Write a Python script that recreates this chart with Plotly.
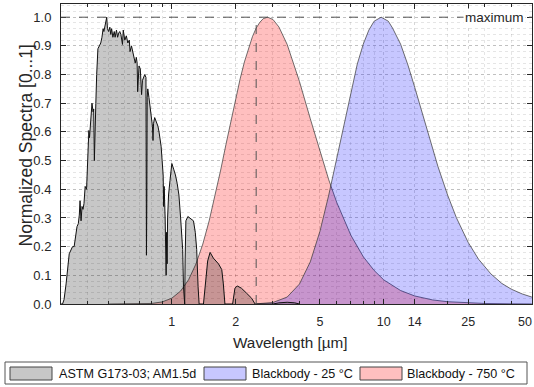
import plotly.graph_objects as go

# ---- data ----
solar_wl = [0.300, 0.305, 0.31, 0.317, 0.328, 0.335, 0.340, 0.346, 0.353, 0.357, 0.362, 0.366, 0.369,
            0.373, 0.377, 0.381, 0.385, 0.390, 0.396, 0.401, 0.406, 0.409, 0.413, 0.417, 0.420, 0.425,
            0.428, 0.431, 0.434, 0.438, 0.442, 0.448, 0.455, 0.462, 0.468, 0.474, 0.478, 0.485, 0.493,
            0.497, 0.503, 0.510, 0.515, 0.520, 0.527, 0.535, 0.540, 0.548, 0.555, 0.562, 0.568, 0.575,
            0.585, 0.590, 0.600, 0.610, 0.620, 0.630, 0.635, 0.645, 0.655, 0.665, 0.672, 0.680, 0.686,
            0.690, 0.695, 0.700, 0.710, 0.720, 0.727, 0.735, 0.745, 0.755, 0.759, 0.762, 0.765, 0.770,
            0.780, 0.790, 0.800, 0.810, 0.815, 0.820, 0.830, 0.840, 0.850, 0.860, 0.870, 0.880, 0.890,
            0.900, 0.910, 0.915, 0.920, 0.930, 0.935, 0.940, 0.945, 0.950, 0.955, 0.965, 0.980, 0.990,
            1.000, 1.020, 1.040, 1.060, 1.080, 1.100, 1.115, 1.125, 1.135, 1.143, 1.150, 1.155, 1.165,
            1.190, 1.220, 1.240, 1.265, 1.290, 1.310, 1.330, 1.345, 1.410, 1.435, 1.476, 1.515, 1.570,
            1.660, 1.720, 1.750, 1.780, 1.935, 1.985, 2.035, 2.130, 2.250, 2.380, 2.470, 3.000, 3.200,
            3.500, 3.800, 4.000]
solar_val = [0.0, 0.0, 0.015, 0.07, 0.175, 0.19, 0.20, 0.20, 0.245, 0.27, 0.28, 0.31, 0.36,
             0.29, 0.34, 0.33, 0.35, 0.41, 0.40, 0.51, 0.605, 0.58, 0.64, 0.66, 0.70, 0.67,
             0.68, 0.50, 0.64, 0.70, 0.80, 0.89, 0.90, 0.91, 0.93, 0.96, 0.95, 0.97, 1.0,
             0.96, 0.95, 0.965, 0.94, 0.96, 0.93, 0.95, 0.93, 0.955, 0.93, 0.945, 0.95, 0.94,
             0.905, 0.955, 0.92, 0.935, 0.91, 0.92, 0.88, 0.90, 0.88, 0.85, 0.84, 0.86, 0.84,
             0.74, 0.80, 0.83, 0.82, 0.73, 0.78, 0.79, 0.80, 0.79, 0.17, 0.35, 0.72, 0.75,
             0.72, 0.68, 0.66, 0.62, 0.57, 0.63, 0.65, 0.64, 0.63, 0.62, 0.60, 0.58, 0.55,
             0.50, 0.45, 0.34, 0.41, 0.30, 0.12, 0.10, 0.25, 0.14, 0.30, 0.38, 0.43, 0.47,
             0.49, 0.47, 0.45, 0.42, 0.38, 0.30, 0.22, 0.19, 0.06, 0.02, 0.0, 0.15, 0.29,
             0.305, 0.30, 0.295, 0.29, 0.25, 0.19, 0.06, 0.0, 0.0, 0.07, 0.15, 0.18, 0.16,
             0.14, 0.12, 0.07, 0.0, 0.0, 0.055, 0.063, 0.055, 0.038, 0.02, 0.0, 0.0, 0.004,
             0.006, 0.004, 0.0]

bb750_wl = [0.5, 0.6, 0.7, 0.8, 0.9, 1.0, 1.1, 1.2, 1.3, 1.4, 1.5, 1.6, 1.7, 1.8, 1.9, 2.0, 2.1, 2.2,
            2.3, 2.4, 2.5, 2.6, 2.7, 2.83, 3.0, 3.2, 3.5, 3.8, 4.0, 4.5, 5.0, 5.5, 6.0, 7.0, 8.0, 9.0,
            10, 12, 14, 17, 20, 25, 30, 40, 50]
bb750_val = [0.0, 0.00002, 0.0003, 0.0018, 0.0072, 0.0203, 0.0452, 0.0848, 0.140, 0.209, 0.290,
             0.377, 0.467, 0.556, 0.640, 0.717, 0.785, 0.844, 0.893, 0.932, 0.962, 0.982, 0.995,
             1.0, 0.992, 0.966, 0.905, 0.829, 0.776, 0.646, 0.531, 0.433, 0.354, 0.239, 0.165,
             0.117, 0.084, 0.047, 0.028, 0.0142, 0.008, 0.0035, 0.0018, 0.0006, 0.00026]

bb25_wl = [2.5, 3, 3.5, 4, 4.5, 5, 5.5, 6, 6.5, 7, 7.5, 8, 8.5, 9, 9.72, 10.5, 11, 12, 13, 14, 15,
           16, 18, 20, 22, 25, 28, 32, 36, 40, 45, 50]
bb25_val = [0.0005, 0.0053, 0.0242, 0.0695, 0.147, 0.254, 0.380, 0.510, 0.635, 0.746, 0.837, 0.906,
            0.955, 0.986, 1.0, 0.986, 0.962, 0.906, 0.833, 0.755, 0.678, 0.607, 0.480, 0.380, 0.301,
            0.215, 0.156, 0.105, 0.072, 0.0515, 0.035, 0.024]

x_tickvals = [1, 2, 5, 10, 14, 25, 50]
x_ticktext = ["1", "2", "5", "10", "14", "25", ""]   # last label drawn separately (kept inside page)
x_last_label = "50"
x_minorvals = [0.3, 0.4, 0.5, 0.6, 0.7, 0.8, 0.9, 3, 4, 6, 7, 8, 9, 20, 30, 40]
y_tickvals = [0.0, 0.1, 0.2, 0.3, 0.4, 0.5, 0.6, 0.7, 0.8, 0.9, 1.0]
marker_wl = 2.5
names = ["ASTM G173-03; AM1.5d", "Blackbody - 25 °C", "Blackbody - 750 °C"]
x_title = "Wavelength [µm]"
y_title = "Normalized Spectra [0...1]"

FONT = "Arial, Liberation Sans, Helvetica, sans-serif"
AX = "#262626"
GRID_MAJ = "rgba(0,0,0,0.16)"
GRID_MIN = "rgba(0,0,0,0.10)"
FILL_SOLAR = "rgba(0,0,0,0.22)"
FILL_25 = "rgba(0,0,255,0.22)"
FILL_750 = "rgba(255,0,0,0.25)"

fig = go.Figure()
fig.add_trace(go.Scatter(x=bb750_wl, y=bb750_val, name=names[2], mode="lines", fill="tozeroy",
                         fillcolor=FILL_750, line=dict(color="#333333", width=0.7), showlegend=False))
fig.add_trace(go.Scatter(x=bb25_wl, y=bb25_val, name=names[1], mode="lines", fill="tozeroy",
                         fillcolor=FILL_25, line=dict(color="#333333", width=0.7), showlegend=False))
fig.add_trace(go.Scatter(x=solar_wl, y=solar_val, name=names[0], mode="lines", fill="tozeroy",
                         fillcolor=FILL_SOLAR, line=dict(color="#111111", width=1), showlegend=False))

# dashed reference lines
fig.add_shape(type="line", xref="paper", yref="y", x0=0, x1=1, y0=1, y1=1,
              line=dict(color="#555555", width=1, dash="dash"), layer="above")
fig.add_shape(type="line", xref="x", yref="y", x0=marker_wl, x1=marker_wl, y0=0, y1=1,
              line=dict(color="#555555", width=1, dash="dash"), layer="above")
fig.add_annotation(xref="paper", yref="y", x=1, xshift=-6, y=1, text="maximum", showarrow=False,
                   xanchor="right", yanchor="middle", bgcolor="white",
                   font=dict(family=FONT, size=13.5, color="#262626"), borderpad=1)

# pixel -> paper helpers (plot area is 471 x 300 px, origin at (61, 304))
def px2x(p):
    return (p - 61) / 471.0

def py2y(p):
    return (304 - p) / 300.0

# last x tick label, right-aligned to the page edge
fig.add_annotation(xref="paper", yref="paper", x=px2x(534), y=py2y(321.5), text=x_last_label,
                   showarrow=False, xanchor="right", yanchor="middle",
                   font=dict(family=FONT, size=12.5, color=AX))

# axis titles
fig.add_annotation(xref="paper", yref="paper", x=px2x(290.5), y=py2y(343), text=x_title,
                   showarrow=False, xanchor="center", yanchor="middle",
                   font=dict(family=FONT, size=15.3, color=AX))
fig.add_annotation(xref="paper", yref="paper", x=px2x(25), y=py2y(145.5), text=y_title,
                   showarrow=False, xanchor="center", yanchor="middle", textangle=-90,
                   font=dict(family=FONT, size=17.5, color=AX))

# manual legend
fig.add_shape(type="rect", xref="paper", yref="paper", x0=px2x(5), x1=px2x(527), y0=py2y(384),
              y1=py2y(362), line=dict(color="#555555", width=1), fillcolor="white")
legend_items = [(10, 57, FILL_SOLAR, names[0]), (204, 250, FILL_25, names[1]),
                (360, 405, FILL_750, names[2])]
for sx, tx, fc, nm in legend_items:
    fig.add_shape(type="rect", xref="paper", yref="paper", x0=px2x(sx), x1=px2x(sx + 42),
                  y0=py2y(380), y1=py2y(367), line=dict(color="#444444", width=1), fillcolor=fc)
    fig.add_annotation(xref="paper", yref="paper", x=px2x(tx), y=py2y(373.5), text=nm,
                       showarrow=False, xanchor="left", yanchor="middle",
                       font=dict(family=FONT, size=12.6, color="#111111"))

fig.update_xaxes(type="log", range=[-0.5229, 1.6992], tickvals=x_tickvals, ticktext=x_ticktext,
                 ticks="inside", ticklen=5, tickcolor=AX, showline=True, linecolor=AX, linewidth=1,
                 mirror="allticks", showgrid=True, gridcolor=GRID_MAJ, griddash="dot", gridwidth=1,
                 minor=dict(tickvals=x_minorvals, ticks="inside", ticklen=3, tickcolor=AX,
                            showgrid=True, gridcolor=GRID_MIN, griddash="dot", gridwidth=1),
                 tickfont=dict(family=FONT, size=12.5, color=AX), ticklabelstandoff=6,
                 zeroline=False, automargin=False)
fig.update_yaxes(range=[0, 1.046], tickvals=y_tickvals, tickformat=".1f",
                 ticks="inside", ticklen=5, tickcolor=AX, showline=True, linecolor=AX, linewidth=1,
                 mirror="allticks", showgrid=True, gridcolor=GRID_MAJ, griddash="dot", gridwidth=1,
                 minor=dict(dtick=0.02, ticks="", showgrid=True, gridcolor=GRID_MIN, griddash="dot",
                            gridwidth=1),
                 tickfont=dict(family=FONT, size=13, color=AX), ticklabelstandoff=6,
                 zeroline=False, automargin=False)

fig.update_layout(width=534, height=387, margin=dict(l=61, r=2, t=4, b=83, autoexpand=False),
                  paper_bgcolor="white", plot_bgcolor="white", showlegend=False)

fig.write_html("out.html", config={"displayModeBar": False},
               post_script="document.body.style.margin='0';document.body.style.overflow='hidden';")
